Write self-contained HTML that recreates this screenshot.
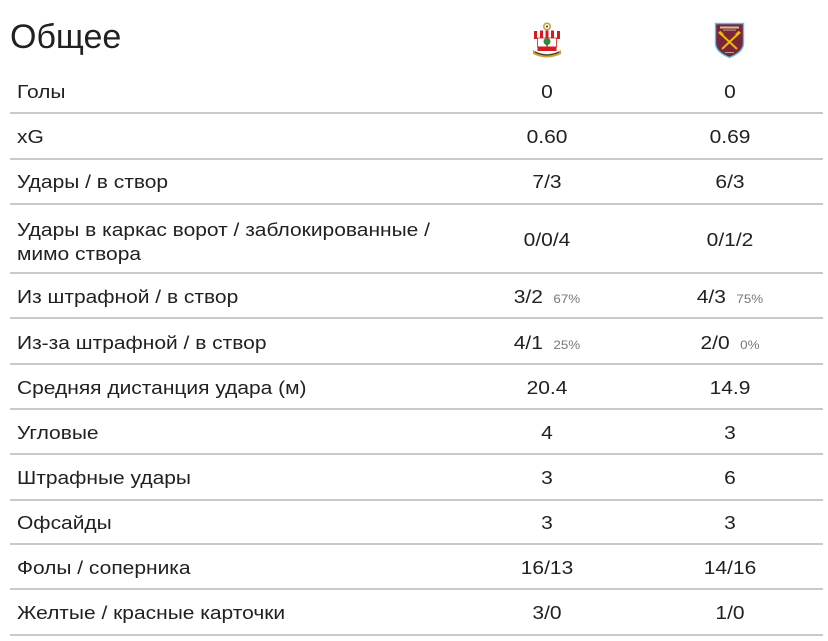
<!DOCTYPE html>
<html>
<head>
<meta charset="utf-8">
<style>
  html, body { margin:0; padding:0; }
  body { width:828px; height:641px; background:#ffffff; position:relative; overflow:hidden;
         font-family:"Liberation Sans", "Noto Sans CJK SC", sans-serif; color:#212121; }
  .t { position:absolute; font-size:18px; line-height:20px; white-space:nowrap; }
  .lbl { left:17px; transform:scaleX(1.165); transform-origin:0 50%; }
  .v1 { left:447px; width:200px; text-align:center; transform:scaleX(1.165); transform-origin:50% 50%; }
  .v2 { left:630px; width:200px; text-align:center; transform:scaleX(1.165); transform-origin:50% 50%; }
  .pct { font-size:11.5px; color:#777; margin-left:9px; }
  .ln { position:absolute; left:10px; width:813px; height:2px; background:#c9c9c9; }
  .title { position:absolute; left:10px; top:17px; font-size:34px; line-height:40px; color:#212121; }
</style>
</head>
<body>
<div class="title">Общее</div>

<svg style="position:absolute;left:0;top:0" width="828" height="70" viewBox="0 0 828 70">
  <!-- Southampton -->
  <g>
    <circle cx="547" cy="26.5" r="4" fill="#c9a23a"/>
    <circle cx="547" cy="26.5" r="2.4" fill="#ffffff"/>
    <circle cx="547" cy="26.5" r="1" fill="#222"/>
    <path d="M533,31 L561,31 L560,39 L534,39 Z" fill="#ffffff"/>
    <rect x="534" y="31" width="3" height="8" fill="#d71920"/>
    <rect x="540" y="30.5" width="3" height="8" fill="#d71920"/>
    <rect x="545.5" y="30.5" width="3" height="8" fill="#d71920"/>
    <rect x="551" y="30.5" width="3" height="8" fill="#d71920"/>
    <rect x="557" y="31" width="3" height="8" fill="#d71920"/>
    <rect x="537.5" y="38" width="19" height="9" fill="#ffffff" stroke="#d71920" stroke-width="0.8"/>
    <circle cx="547" cy="41.5" r="3.5" fill="#2f8a3c"/>
    <rect x="546.4" y="43.5" width="1.2" height="3" fill="#5a3b1c"/>
    <rect x="537.5" y="46.5" width="19" height="4.5" fill="#d71920"/>
    <path d="M533,50 Q547,58 561,50 L561,54 Q547,61 533,54 Z" fill="#c9a23a"/>
    <path d="M535,52 Q547,58 559,52" stroke="#333" stroke-width="1" fill="none"/>
  </g>
  <!-- West Ham -->
  <g>
    <path d="M715.5,23.5 L743.5,23.5 L743.5,43 Q743.5,52 729.5,57.5 Q715.5,52 715.5,43 Z"
          fill="#7a263a" stroke="#5bc0ea" stroke-width="1.4"/>
    <rect x="720" y="26.5" width="19" height="2" fill="#e8d9a0" opacity="0.85"/>
    <rect x="723" y="29.5" width="13" height="1.2" fill="#e8d9a0" opacity="0.6"/>
    <line x1="721" y1="34" x2="737" y2="49" stroke="#f2b705" stroke-width="2"/>
    <line x1="738" y1="34" x2="722" y2="49" stroke="#f2b705" stroke-width="2"/>
    <rect x="718.5" y="32" width="5" height="3" fill="#f2b705" transform="rotate(43 721 33.5)"/>
    <rect x="735.5" y="32" width="5" height="3" fill="#f2b705" transform="rotate(-43 738 33.5)"/>
    <rect x="725" y="52" width="9" height="1" fill="#e8d9a0" opacity="0.7"/>
  </g>
</svg>

<!-- separator lines -->
<div class="ln" style="top:112px"></div>
<div class="ln" style="top:157.5px"></div>
<div class="ln" style="top:203px"></div>
<div class="ln" style="top:272px"></div>
<div class="ln" style="top:317px"></div>
<div class="ln" style="top:362.5px"></div>
<div class="ln" style="top:408px"></div>
<div class="ln" style="top:453px"></div>
<div class="ln" style="top:498.5px"></div>
<div class="ln" style="top:543px"></div>
<div class="ln" style="top:588px"></div>
<div class="ln" style="top:633.5px"></div>

<!-- rows -->
<div class="t lbl" style="top:82px">Голы</div>
<div class="t v1" style="top:82px">0</div>
<div class="t v2" style="top:82px">0</div>

<div class="t lbl" style="top:127px">xG</div>
<div class="t v1" style="top:127px">0.60</div>
<div class="t v2" style="top:127px">0.69</div>

<div class="t lbl" style="top:172px">Удары / в створ</div>
<div class="t v1" style="top:172px">7/3</div>
<div class="t v2" style="top:172px">6/3</div>

<div class="t lbl" style="top:218px;line-height:24px">Удары в каркас ворот / заблокированные /<br>мимо створа</div>
<div class="t v1" style="top:230px">0/0/4</div>
<div class="t v2" style="top:230px">0/1/2</div>

<div class="t lbl" style="top:287px">Из штрафной / в створ</div>
<div class="t v1" style="top:287px">3/2<span class="pct">67%</span></div>
<div class="t v2" style="top:287px">4/3<span class="pct">75%</span></div>

<div class="t lbl" style="top:332.5px">Из-за штрафной / в створ</div>
<div class="t v1" style="top:332.5px">4/1<span class="pct">25%</span></div>
<div class="t v2" style="top:332.5px">2/0<span class="pct">0%</span></div>

<div class="t lbl" style="top:377.5px">Средняя дистанция удара (м)</div>
<div class="t v1" style="top:377.5px">20.4</div>
<div class="t v2" style="top:377.5px">14.9</div>

<div class="t lbl" style="top:423px">Угловые</div>
<div class="t v1" style="top:423px">4</div>
<div class="t v2" style="top:423px">3</div>

<div class="t lbl" style="top:468px">Штрафные удары</div>
<div class="t v1" style="top:468px">3</div>
<div class="t v2" style="top:468px">6</div>

<div class="t lbl" style="top:513px">Офсайды</div>
<div class="t v1" style="top:513px">3</div>
<div class="t v2" style="top:513px">3</div>

<div class="t lbl" style="top:558px">Фолы / соперника</div>
<div class="t v1" style="top:558px">16/13</div>
<div class="t v2" style="top:558px">14/16</div>

<div class="t lbl" style="top:603px">Желтые / красные карточки</div>
<div class="t v1" style="top:603px">3/0</div>
<div class="t v2" style="top:603px">1/0</div>
</body>
</html>
